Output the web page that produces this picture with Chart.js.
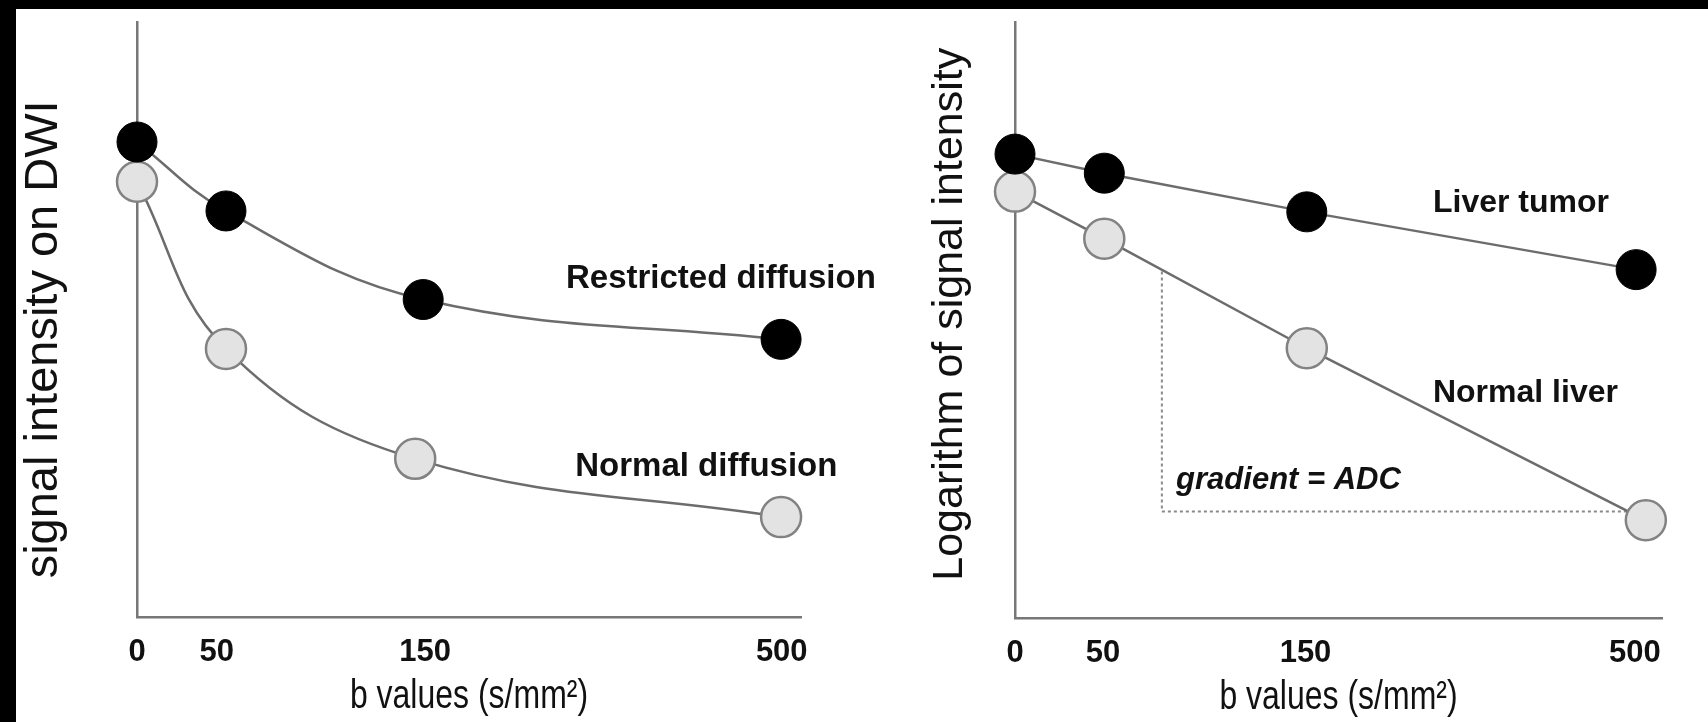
<!DOCTYPE html>
<html>
<head>
<meta charset="utf-8">
<script src="https://cdn.jsdelivr.net/npm/chart.js"></script>
<style>
  html, body { margin: 0; padding: 0; background: #000; }
  #page { position: relative; width: 1708px; height: 722px; overflow: hidden; background: #000; }
  #paper { position: absolute; left: 16px; top: 9px; right: 0; bottom: 0; background: #fff; }
  canvas { position: absolute; top: 0; }
  #leftChart { left: 0; }
  #rightChart { left: 854px; }
</style>
</head>
<body>
<div id="page">
  <div id="paper"></div>
  <canvas id="leftChart" width="920" height="722"></canvas>
  <canvas id="rightChart" width="854" height="722"></canvas>
</div>
<script>
// b value tick labels (the axis is not drawn to scale, so each tick has its own position 0-100)
const bLabels = ['0', '50', '150', '500'];
const leftTickPos = [0, 12.0, 43.4, 97.1];
const rightTickPos = [0, 13.6, 44.9, 95.8];

// left panel: signal intensity on DWI
const restrictedX = [0, 13.4, 43.1, 97.0];
const restrictedY = [79.9, 68.3, 53.4, 46.7];
const normalDiffX = [0, 13.4, 41.9, 97.0];
const normalDiffY = [73.2, 45.1, 26.6, 16.8];

// right panel: log of signal intensity
const tumorX = [0, 13.8, 45.1, 96.0];
const tumorY = [77.9, 74.7, 68.2, 58.5];
const liverX = [0, 13.8, 45.1, 97.5];
const liverY = [71.6, 63.7, 45.3, 16.4];

// dotted gradient guide under the normal liver line
const adcGuideX = [22.7, 22.7, 94.6];
const adcGuideY = [58.2, 17.9, 17.9];

const FONT = 'Arial, "Liberation Sans", sans-serif';
const LINE = '#6c6c6c';
const AXIS = '#777';
const NB = '\u00A0';

function pts(xs, ys) {
    return xs.map((x, i) => ({ x: x, y: ys[i] }));
}

const blackSeries = {
    pointRadius: 20,
    pointBackgroundColor: '#000',
    pointBorderColor: '#000',
    pointBorderWidth: 1,
    borderColor: LINE,
    borderWidth: 2.5,
    clip: false
};
const greySeries = {
    pointRadius: 20,
    pointBackgroundColor: '#e3e3e3',
    pointBorderColor: '#828282',
    pointBorderWidth: 2.5,
    borderColor: LINE,
    borderWidth: 2.5,
    clip: false
};

// free text labels placed in data units, plus a condensed x axis title
const notesPlugin = {
    id: 'notes',
    afterDatasetsDraw(chart, args, opts) {
        const ctx = chart.ctx;
        const xs = chart.scales.x, ys = chart.scales.y;
        ctx.save();
        ctx.fillStyle = '#111';
        ctx.textBaseline = 'middle';
        ctx.textAlign = 'left';
        (opts.items || []).forEach(n => {
            ctx.font = n.font;
            ctx.fillText(n.text, xs.getPixelForValue(n.x), ys.getPixelForValue(n.y));
        });
        if (opts.xTitle) {
            const a = chart.chartArea;
            ctx.font = opts.xTitle.font;
            ctx.textAlign = 'center';
            ctx.translate((a.left + a.right) / 2, a.bottom + opts.xTitle.offset);
            ctx.scale(opts.xTitle.squeeze, 1);
            ctx.fillText(opts.xTitle.text, 0, 0);
        }
        ctx.restore();
    }
};

function makeOptions(tickPos, yWidth, yTitle, yTitleSize, yTitlePad, padRight, xHeight, notes) {
    return {
        responsive: false,
        animation: false,
        devicePixelRatio: 1,
        layout: { padding: { top: 20, right: padRight, left: 0, bottom: 0 } },
        plugins: {
            legend: { display: false },
            tooltip: { enabled: false },
            notes: {
                items: notes,
                xTitle: { text: 'b values (s/mm\u00B2)', font: '40px ' + FONT, offset: 80, squeeze: 0.8 }
            }
        },
        scales: {
            x: {
                type: 'linear',
                min: 0,
                max: 100,
                grid: { display: false, drawTicks: false },
                border: { display: true, color: AXIS, width: 2.5 },
                afterBuildTicks: scale => {
                    scale.ticks = tickPos.map(v => ({ value: v }));
                },
                afterFit: scale => { scale.height = xHeight; },
                ticks: {
                    autoSkip: false,
                    maxRotation: 0,
                    padding: 17,
                    color: '#111',
                    font: { family: FONT, size: 31, weight: 'bold' },
                    callback: (v, i) => bLabels[i]
                }
            },
            y: {
                type: 'linear',
                min: 0,
                max: 100,
                grid: { display: false, drawTicks: false },
                border: { display: true, color: AXIS, width: 2.5 },
                ticks: { display: false },
                afterFit: scale => { scale.width = yWidth; },
                title: {
                    display: true,
                    text: yTitle,
                    color: '#111',
                    font: { family: FONT, size: yTitleSize },
                    padding: { top: yTitlePad, bottom: 0 }
                }
            }
        }
    };
}

new Chart(document.getElementById('leftChart').getContext('2d'), {
    type: 'line',
    data: {
        datasets: [
            Object.assign({ label: 'Restricted diffusion', data: pts(restrictedX, restrictedY), tension: 0.4 }, blackSeries),
            Object.assign({ label: 'Normal diffusion', data: pts(normalDiffX, normalDiffY), tension: 0.4 }, greySeries)
        ]
    },
    options: makeOptions(leftTickPos, 137, 'signal intensity on DWI' + NB + NB + NB, 47, 16, 119, 105, [
        { text: 'Restricted diffusion', x: 64.6, y: 56.8, font: 'bold 33px ' + FONT },
        { text: 'Normal diffusion', x: 66.0, y: 25.3, font: 'bold 33px ' + FONT }
    ]),
    plugins: [notesPlugin]
});

new Chart(document.getElementById('rightChart').getContext('2d'), {
    type: 'line',
    data: {
        datasets: [
            Object.assign({ label: 'Liver tumor', data: pts(tumorX, tumorY), tension: 0 }, blackSeries),
            Object.assign({ label: 'Normal liver', data: pts(liverX, liverY), tension: 0 }, greySeries),
            {
                label: 'gradient',
                data: pts(adcGuideX, adcGuideY),
                borderColor: '#8a8a8a',
                borderWidth: 2,
                borderDash: [3, 3],
                pointRadius: 0,
                tension: 0,
                clip: false
            }
        ]
    },
    options: makeOptions(rightTickPos, 161, NB + 'Logarithm of signal intensity', 43, 70, 46, 104, [
        { text: 'Liver tumor', x: 64.6, y: 69.6, font: 'bold 32px ' + FONT },
        { text: 'Normal liver', x: 64.6, y: 37.8, font: 'bold 32px ' + FONT },
        { text: 'gradient = ADC', x: 24.9, y: 23.1, font: 'italic bold 31px ' + FONT }
    ]),
    plugins: [notesPlugin]
});
</script>
</body>
</html>
